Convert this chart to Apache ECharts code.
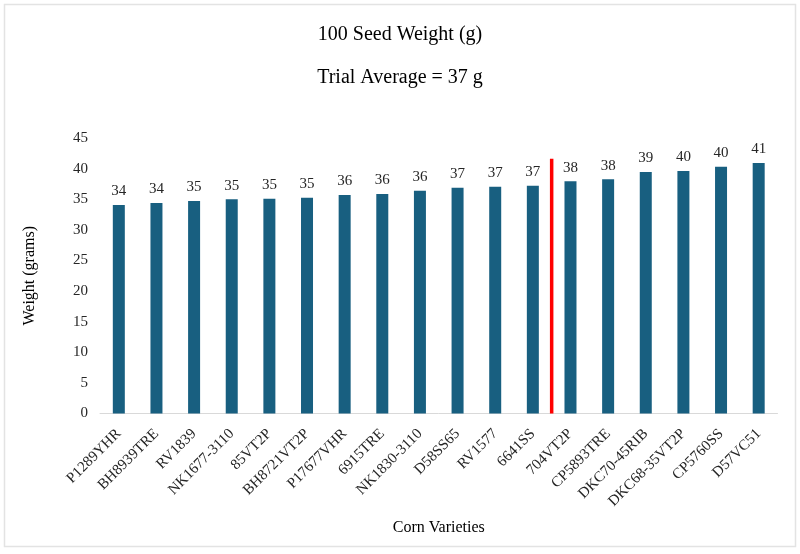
<!DOCTYPE html>
<html>
<head>
<meta charset="utf-8">
<script src="https://cdn.jsdelivr.net/npm/echarts@6/dist/echarts.min.js"></script>
<style>
html,body{margin:0;padding:0;background:#fff;}
#c{width:800px;height:554px;}
</style>
</head>
<body>
<div id="c"></div>
<script>
const categories = ["P1289YHR","BH8939TRE","RV1839","NK1677-3110","85VT2P","BH8721VT2P","P17677VHR","6915TRE","NK1830-3110","D58SS65","RV1577","6641SS","704VT2P","CP5893TRE","DKC70-45RIB","DKC68-35VT2P","CP5760SS","D57VC51"];
const weights = [34.06,34.38,34.71,34.99,35.09,35.25,35.69,35.85,36.39,36.88,37.05,37.21,37.93,38.26,39.45,39.61,40.31,40.92];
const yTicks = [0,5,10,15,20,25,30,35,40,45];
const averageDivider = [[12,0],[12,41.6]];

const font = "'Liberation Serif','Times New Roman',serif";
const chart = echarts.init(document.getElementById('c'));
chart.setOption({
  backgroundColor:'#fff',
  animation:false,
  textStyle:{fontFamily:font},
  graphic:[{type:'rect',shape:{x:4.5,y:4.5,width:791,height:542},style:{fill:'none',stroke:'#e3e3e3',lineWidth:1.5},silent:true}],
  title:[
    {text:'100 Seed Weight (g)',left:'center',top:20,textStyle:{fontFamily:font,fontSize:20,fontWeight:'normal',color:'#000'}},
    {text:'Trial Average = 37 g',left:'center',top:63,textStyle:{fontFamily:font,fontSize:20,fontWeight:'normal',color:'#000'}}
  ],
  grid:{left:100,right:22.5,top:138,bottom:140.5,containLabel:false},
  xAxis:[
    {type:'category',data:categories,
     axisLine:{lineStyle:{color:'#d9d9d9',width:1}},
     axisTick:{show:false},
     axisLabel:{rotate:45,interval:0,fontFamily:font,fontSize:15,color:'#262626',margin:18},
     name:'Corn Varieties',nameLocation:'middle',nameGap:106,
     nameTextStyle:{fontFamily:font,fontSize:16,color:'#000'}},
    {type:'value',min:0,max:18,show:false}
  ],
  yAxis:{type:'value',min:0,max:45,interval:5,
    axisLine:{show:false},axisTick:{show:false},
    splitLine:{show:false},
    axisLabel:{fontFamily:font,fontSize:15,color:'#262626',margin:12,
      formatter:v=>yTicks.includes(v)?String(v):''},
    name:'Weight (grams)',nameLocation:'middle',nameGap:62,nameRotate:90,
    nameTextStyle:{fontFamily:font,fontSize:16,color:'#000'}},
  series:[
    {type:'bar',data:weights,barWidth:12,xAxisIndex:0,
     itemStyle:{color:'#185f80'},
     label:{show:true,position:'top',distance:6,fontFamily:font,fontSize:15,color:'#262626',
       formatter:p=>Math.round(p.value)}},
    {type:'line',xAxisIndex:1,data:averageDivider,symbol:'none',
     lineStyle:{color:'#ff0000',width:3.5},z:5}
  ]
});
</script>
</body>
</html>
